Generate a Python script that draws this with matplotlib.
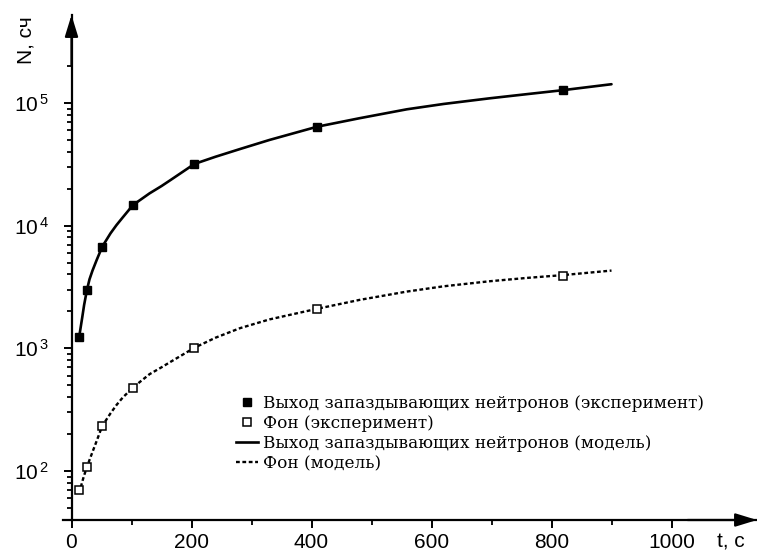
import matplotlib
matplotlib.use("Agg")
import matplotlib.pyplot as plt
from matplotlib.ticker import FixedLocator, NullFormatter

# ---- data ----
t_exp = [12.8, 25.6, 51.2, 102.4, 204.8, 409.6, 819.2]
yield_exp = [1240, 2970, 6730, 14700, 31800, 64000, 127000]
bg_exp = [70, 107, 233, 479, 1010, 2090, 3880]

t_model = [12.8, 18, 21, 25.6, 30, 35, 42, 51.2, 65, 75, 85, 102.4, 130, 150, 165,
           204.8, 240, 281, 330, 409.6, 480, 559, 620, 697, 760, 819.2, 900]
yield_model = [1240, 1800, 2250, 2970, 3650, 4300, 5250, 6730, 8650, 10100, 11600,
               14700, 18300, 21000, 23500, 31800, 36400, 42100, 49900, 64000, 75000,
               88700, 98000, 109000, 118000, 127000, 142000]
bg_model = [66, 82, 92, 107, 123, 143, 176, 233, 295, 345, 395, 479, 615, 700, 775,
            1010, 1220, 1460, 1720, 2100, 2480, 2900, 3200, 3520, 3750, 3950, 4300]

x_ticks = [0, 200, 400, 600, 800, 1000]
x_minor = [100, 300, 500, 700, 900]
y_major = [1e2, 1e3, 1e4, 1e5]
y_labels = [r"$10^{\,2}$", r"$10^{\,3}$", r"$10^{\,4}$", r"$10^{\,5}$"]

labels = ["Выход запаздывающих нейтронов (эксперимент)",
          "Фон (эксперимент)",
          "Выход запаздывающих нейтронов (модель)",
          "Фон (модель)"]

plt.rcParams['font.family'] = ['Liberation Sans', 'DejaVu Sans']
plt.rcParams['mathtext.fontset'] = 'custom'
plt.rcParams['mathtext.rm'] = 'Liberation Sans'
plt.rcParams['mathtext.it'] = 'Liberation Sans'

W, H = 757, 552
fig = plt.figure(figsize=(W / 100, H / 100), dpi=100)
left_px, right_px, top_px, bottom_px = 63, 757, 15, 520
ax = fig.add_axes([left_px / W, 1 - bottom_px / H, (right_px - left_px) / W,
                   (bottom_px - top_px) / H])

x0_px, sx = 71.5, 0.6
ax.set_xlim((left_px - x0_px) / sx, (right_px - x0_px) / sx)
ax.set_yscale('log')
ax.set_ylim(10 ** (3 + (348.3 - bottom_px) / 122.7), 10 ** (3 + (348.3 - top_px) / 122.7))

# curves
ax.plot(t_model, yield_model, color='black', lw=1.9, solid_capstyle='round',
        solid_joinstyle='round')
ax.plot(t_model, bg_model, color='black', lw=1.7, linestyle=(0, (1.6, 1.1)))
h1, = ax.plot(t_exp, yield_exp, linestyle='none', marker='s', ms=6.2, color='black')
h2, = ax.plot(t_exp, bg_exp, linestyle='none', marker='s', ms=6.0, mfc='white',
              mec='black', mew=1.1)

# spines
for s in ['top', 'right']:
    ax.spines[s].set_visible(False)
ax.spines['left'].set_position(('data', 0))
ax.spines['left'].set_linewidth(1.6)
ax.spines['bottom'].set_linewidth(1.6)

# ticks
ax.set_xticks(x_ticks)
ax.set_xticklabels([str(v) for v in x_ticks])
ax.xaxis.set_minor_locator(FixedLocator(x_minor))
ax.yaxis.set_major_locator(FixedLocator(y_major))
ax.set_yticklabels(y_labels)
ymin_tk = [m * 10 ** e for e in range(1, 6) for m in range(2, 10)]
ymin_tk = [v for v in ymin_tk if 40 <= v <= 2.1e5]
ax.yaxis.set_minor_locator(FixedLocator(ymin_tk))
ax.yaxis.set_minor_formatter(NullFormatter())
ax.tick_params(axis='both', which='major', direction='out', length=6, width=1.4,
               labelsize=15)
ax.tick_params(axis='both', which='minor', direction='out', length=3.6, width=1.3)
ax.tick_params(axis='x', which='major', pad=3.5)
ax.tick_params(axis='y', which='major', pad=10)

# arrows
ax.annotate('', xy=(0, 1.0), xycoords=('data', 'axes fraction'),
            xytext=(0, 0.9), textcoords=('data', 'axes fraction'),
            arrowprops=dict(arrowstyle='-|>,head_length=0.65,head_width=0.2',
                            color='black', lw=1.6, shrinkA=0, shrinkB=0,
                            mutation_scale=20))
ax.annotate('', xy=(1.0, 0), xycoords='axes fraction',
            xytext=(0.9, 0), textcoords='axes fraction',
            arrowprops=dict(arrowstyle='-|>,head_length=0.65,head_width=0.2',
                            color='black', lw=1.6, shrinkA=0, shrinkB=0,
                            mutation_scale=20))

# axis labels
fig.text(26 / W, 1 - 40 / H, "N, сч", rotation=90, ha='center', va='center', fontsize=15)
fig.text(731 / W, 1 - 542 / H, "t, c", ha='center', va='center', fontsize=15)

# legend
hl1, = ax.plot([], [], color='black', lw=1.9)
hl2, = ax.plot([], [], color='black', lw=1.7, linestyle=(0, (1.6, 1.1)))
leg = fig.legend([h1, h2, hl1, hl2], labels, loc='upper left',
                 bbox_to_anchor=(236 / W, 1 - 395 / H), bbox_transform=fig.transFigure,
                 frameon=False, borderpad=0, borderaxespad=0,
                 prop={'family': 'DejaVu Serif', 'size': 12.2},
                 handlelength=1.3, handletextpad=0.3, labelspacing=0.18,
                 markerscale=0.85)

fig.savefig("out.png", dpi=100)
